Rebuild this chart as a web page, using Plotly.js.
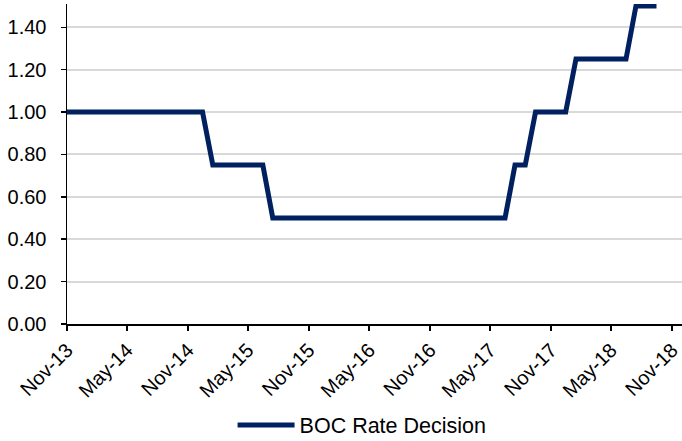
<!DOCTYPE html>
<html>
<head>
<meta charset="utf-8">
<script src="https://cdn.plot.ly/plotly-3.0.1.min.js"></script>
<style>
html,body{margin:0;padding:0;background:#fff;}
#chart{width:682px;height:441px;}
</style>
</head>
<body>
<div id="chart"></div>
<script>
// Monthly observation dates (mid-month)
const months = [
  '2013-10-15','2013-11-15','2013-12-15',
  '2014-01-15','2014-02-15','2014-03-15','2014-04-15','2014-05-15','2014-06-15',
  '2014-07-15','2014-08-15','2014-09-15','2014-10-15','2014-11-15','2014-12-15',
  '2015-01-15','2015-02-15','2015-03-15','2015-04-15','2015-05-15','2015-06-15',
  '2015-07-15','2015-08-15','2015-09-15','2015-10-15','2015-11-15','2015-12-15',
  '2016-01-15','2016-02-15','2016-03-15','2016-04-15','2016-05-15','2016-06-15',
  '2016-07-15','2016-08-15','2016-09-15','2016-10-15','2016-11-15','2016-12-15',
  '2017-01-15','2017-02-15','2017-03-15','2017-04-15','2017-05-15','2017-06-15',
  '2017-07-15','2017-08-15','2017-09-15','2017-10-15','2017-11-15','2017-12-15',
  '2018-01-15','2018-02-15','2018-03-15','2018-04-15','2018-05-15','2018-06-15',
  '2018-07-15','2018-08-15','2018-09-15'
];
// BOC policy rate (%)
const bocRate = [
  1.00,1.00,1.00,
  1.00,1.00,1.00,1.00,1.00,1.00,
  1.00,1.00,1.00,1.00,1.00,1.00,
  0.75,0.75,0.75,0.75,0.75,0.75,
  0.50,0.50,0.50,0.50,0.50,0.50,
  0.50,0.50,0.50,0.50,0.50,0.50,
  0.50,0.50,0.50,0.50,0.50,0.50,
  0.50,0.50,0.50,0.50,0.50,0.50,
  0.75,0.75,1.00,1.00,1.00,1.00,
  1.25,1.25,1.25,1.25,1.25,1.25,
  1.50,1.50,1.50
];
const seriesName = 'BOC Rate Decision';
const yTicks = [0,0.2,0.4,0.6,0.8,1.0,1.2,1.4];

const font = 'Liberation Sans, Arial, sans-serif';

const trace = {
  x: months, y: bocRate, type: 'scatter', mode: 'lines', name: seriesName,
  line: {color: '#002060', width: 5}
};

const layout = {
  width: 682, height: 441,
  margin: {l: 67, r: 0, t: 4, b: 117},
  paper_bgcolor: '#fff', plot_bgcolor: '#fff',
  font: {family: font, color: '#000', size: 20},
  showlegend: true,
  legend: {
    orientation: 'h', xref: 'container', yref: 'container',
    x: 0.341, xanchor: 'left', y: 0.036, yanchor: 'middle',
    font: {family: font, size: 21.5, color: '#000'}, itemwidth: 57
  },
  xaxis: {
    type: 'date', range: ['2013-11-01','2018-12-01'], automargin: false,
    tickmode: 'linear', tick0: '2013-11-01', dtick: 'M6', tickformat: '%b-%y',
    tickangle: -45, ticks: 'outside', ticklen: 5, tickwidth: 1.5, tickcolor: '#000',
    showline: true, linecolor: '#000', linewidth: 1.5, showgrid: false, zeroline: false,
    tickfont: {family: font, size: 20, color: '#000'}
  },
  yaxis: {
    range: [0, 1.51], automargin: false, tickmode: 'array', tickvals: yTicks, tickformat: '.2f',
    ticks: 'outside', ticklen: 5, tickwidth: 1.5, tickcolor: '#000', ticklabelstandoff: 10,
    showline: true, linecolor: '#000', linewidth: 1.5,
    showgrid: true, gridcolor: '#d9d9d9', gridwidth: 2, zeroline: false,
    tickfont: {family: font, size: 20, color: '#000'}
  }
};

Plotly.newPlot('chart', [trace], layout, {staticPlot: true, displayModeBar: false});
</script>
</body>
</html>
